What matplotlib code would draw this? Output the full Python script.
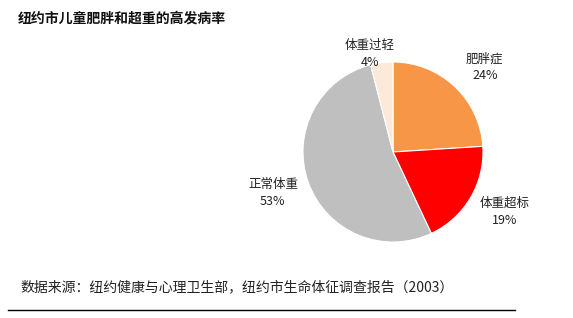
import matplotlib
matplotlib.use("Agg")
import matplotlib.pyplot as plt
import numpy as np
from matplotlib.lines import Line2D

plt.rcParams['font.family'] = ['Noto Sans CJK SC', 'DejaVu Sans']

labels = ['肥胖症', '体重超标', '正常体重', '体重过轻']
values = [24, 19, 53, 4]
colors = ['#F79646', '#FF0000', '#BFBFBF', '#FDE9D9']
# per-label distance from centre (in radii) and angle nudge (deg)
label_dist = [1.39, 1.41, 1.41, 1.12]
label_ang_shift = [-4, 2.5, -1, 6]

fig = plt.figure(figsize=(5.73, 3.18), dpi=100)
ax = fig.add_axes([303 / 573, 76 / 318, 180 / 573, 180 / 318])

wedges, _ = ax.pie(values, colors=colors, startangle=90, counterclock=False,
                   wedgeprops=dict(edgecolor='white', linewidth=0.8))
ax.set_xlim(-1, 1)
ax.set_ylim(-1, 1)
ax.set_aspect('equal')
ax.axis('off')

for w, lab, v, d, s in zip(wedges, labels, values, label_dist, label_ang_shift):
    ang = np.deg2rad((w.theta1 + w.theta2) / 2 + s)
    ax.text(d * np.cos(ang), d * np.sin(ang), f'{lab}\n{v}%',
            ha='center', va='center', fontsize=9, color='#222222',
            linespacing=1.35)

fig.text(18 / 573, 1 - 19 / 318, '纽约市儿童肥胖和超重的高发病率',
         fontsize=10, fontweight='bold', va='center', ha='left', color='#111111')
fig.text(20 / 573, 1 - 287 / 318, '数据来源：纽约健康与心理卫生部，纽约市生命体征调查报告（2003）',
         fontsize=10, va='center', ha='left', color='#222222')
fig.add_artist(Line2D([8 / 573, 515 / 573], [1 - 310 / 318, 1 - 310 / 318],
                      color='black', linewidth=1))

fig.savefig('out.png', dpi=100, facecolor='white')
